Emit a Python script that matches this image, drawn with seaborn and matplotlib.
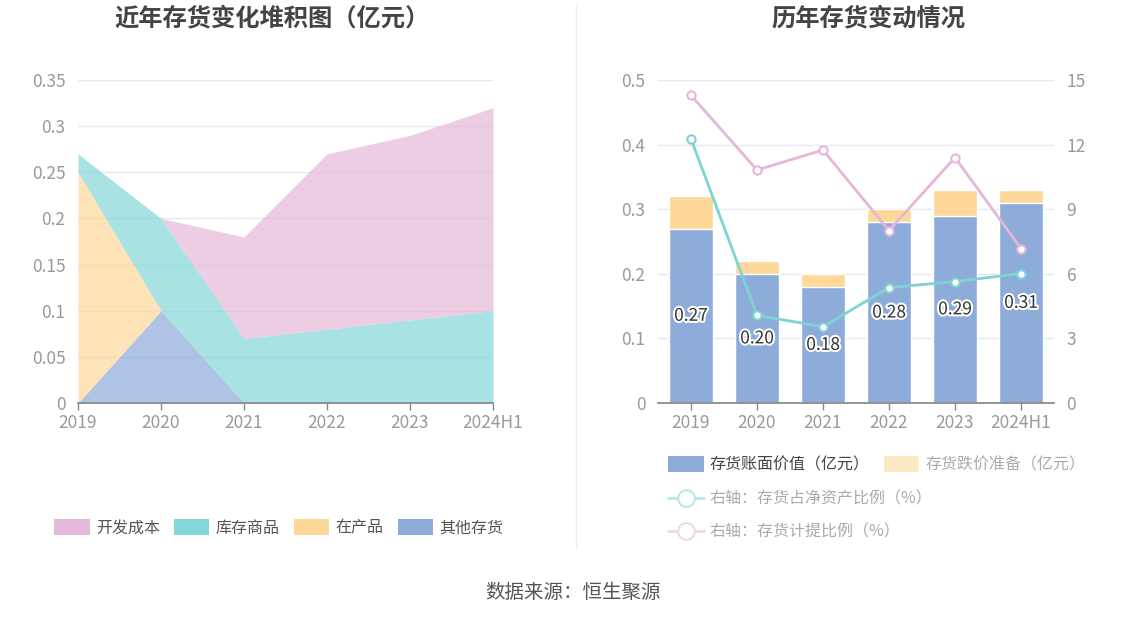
import numpy as np
import pandas as pd
import matplotlib
matplotlib.use('Agg')
import matplotlib.pyplot as plt
import matplotlib.patheffects as pe
from matplotlib.patches import Patch
from matplotlib.lines import Line2D
import seaborn as sns

# 数据
years = ['2019', '2020', '2021', '2022', '2023', '2024H1']
other_inv = [0.0, 0.10, 0.0, 0.0, 0.0, 0.0]          # 其他存货
wip = [0.25, 0.0, 0.0, 0.0, 0.0, 0.0]                # 在产品
goods = [0.02, 0.10, 0.07, 0.08, 0.09, 0.10]         # 库存商品
dev_cost = [0.0, 0.0, 0.11, 0.19, 0.20, 0.22]        # 开发成本

book_value = [0.27, 0.20, 0.18, 0.28, 0.29, 0.31]    # 存货账面价值
impairment = [0.05, 0.02, 0.02, 0.02, 0.04, 0.02]    # 存货跌价准备
ratio_net = [12.27, 4.07, 3.54, 5.36, 5.64, 6.01]    # 存货占净资产比例
ratio_prov = [14.29, 10.82, 11.75, 8.01, 11.40, 7.17]  # 存货计提比例

sns.set_theme(style='white')
plt.rcParams['font.family'] = ['Noto Sans CJK SC', 'DejaVu Sans']
plt.rcParams['axes.unicode_minus'] = False

c_pink, c_cyan, c_yellow, c_blue = '#e6b8d9', '#84d6d8', '#fdd899', '#8eacd9'
tick_c = '#999999'
grid_c = '#e4e8f4'
TICK_FS = 12.5
LEG_FS = 11.5

fig = plt.figure(figsize=(11.47, 6.19), dpi=100)

# ---------- 左图：堆积面积 ----------
ax1 = fig.add_axes([78/1147, 1-403/619, (493-78)/1147, (403-80)/619])
x = np.arange(len(years))
ax1.stackplot(x, other_inv, wip, goods, dev_cost,
              colors=[c_blue, c_yellow, c_cyan, c_pink], alpha=0.7, lw=0)
ax1.set_xlim(0, len(years)-1)
ax1.set_ylim(0, 0.35)
ax1.set_yticks([0, 0.05, 0.1, 0.15, 0.2, 0.25, 0.3, 0.35])
ax1.set_yticklabels(['0', '0.05', '0.1', '0.15', '0.2', '0.25', '0.3', '0.35'])
ax1.set_xticks(x)
ax1.set_xticklabels(years)
ax1.yaxis.grid(True, color=grid_c, lw=1)
ax1.set_axisbelow(True)
for s in ['top', 'right', 'left']:
    ax1.spines[s].set_visible(False)
ax1.spines['bottom'].set_color('#888888')
ax1.tick_params(axis='y', length=0, pad=9, colors=tick_c, labelsize=TICK_FS)
ax1.tick_params(axis='x', length=5, width=1, color='#888888', pad=3,
                colors=tick_c, labelsize=TICK_FS, direction='out', bottom=True)
fig.text(272/1147, 1-18/619, '近年存货变化堆积图（亿元）', fontsize=17.5,
         fontweight='bold', color='#444444', ha='center', va='center')

leg1 = fig.legend(handles=[Patch(facecolor=c, edgecolor='none', label=l)
                           for c, l in zip([c_pink, c_cyan, c_yellow, c_blue],
                                           ['开发成本', '库存商品', '在产品', '其他存货'])],
                  loc='center', bbox_to_anchor=(279/1147, 1-528/619), ncol=4,
                  frameon=False, fontsize=LEG_FS, handlelength=2.2, handleheight=1.15,
                  columnspacing=0.9, handletextpad=0.4)
for t in leg1.get_texts():
    t.set_color('#555555')

# 分隔线
fig.add_artist(Line2D([576/1147, 576/1147], [1-5/619, 1-548/619],
                      color='#eeeeee', lw=1))

# ---------- 右图：柱状+折线 ----------
ax2 = fig.add_axes([658/1147, 1-403/619, (1054-658)/1147, (403-80)/619])
df = pd.DataFrame({'year': years, 'book': book_value, 'imp': impairment})
df['total'] = df['book'] + df['imp']
sns.barplot(data=df, x='year', y='total', color=c_yellow, saturation=1,
            width=0.68, ax=ax2)
sns.barplot(data=df, x='year', y='book', color=c_blue, saturation=1,
            width=0.68, ax=ax2)
for i, v in enumerate(book_value):
    ax2.text(i, v/2, f'{v:.2f}', ha='center', va='center', fontsize=12.5,
             color='#333333',
             path_effects=[pe.withStroke(linewidth=3, foreground='white')],
             zorder=6)
ax2.set_xlim(-0.5, len(years)-0.5)
ax2.set_ylim(0, 0.5)
ax2.set_yticks([0, 0.1, 0.2, 0.3, 0.4, 0.5])
ax2.set_yticklabels(['0', '0.1', '0.2', '0.3', '0.4', '0.5'])
ax2.set_xlabel('')
ax2.set_ylabel('')
ax2.yaxis.grid(True, color=grid_c, lw=1)
ax2.set_axisbelow(True)
for s in ['top', 'right', 'left']:
    ax2.spines[s].set_visible(False)
ax2.spines['bottom'].set_color('#888888')
ax2.tick_params(axis='y', length=0, pad=9, colors=tick_c, labelsize=TICK_FS)
ax2.tick_params(axis='x', length=5, width=1, color='#888888', pad=3,
                colors=tick_c, labelsize=TICK_FS, direction='out', bottom=True)
fig.text(869/1147, 1-18/619, '历年存货变动情况', fontsize=17.5,
         fontweight='bold', color='#444444', ha='center', va='center')

ax3 = ax2.twinx()
pos = np.arange(len(years))
sns.lineplot(x=pos, y=ratio_net, ax=ax3, color='#7fd3d5', lw=2,
             marker='o', markersize=6, markerfacecolor='white',
             markeredgecolor='#7fd3d5', markeredgewidth=1.5)
sns.lineplot(x=pos, y=ratio_prov, ax=ax3, color='#e5b6da', lw=2,
             marker='o', markersize=6, markerfacecolor='white',
             markeredgecolor='#e5b6da', markeredgewidth=1.5)
ax3.set_ylim(0, 15)
ax3.set_yticks([0, 3, 6, 9, 12, 15])
for s in ['top', 'right', 'left', 'bottom']:
    ax3.spines[s].set_visible(False)
ax3.tick_params(axis='y', length=0, pad=9, colors=tick_c, labelsize=TICK_FS)
ax3.grid(False)

leg2 = fig.legend(handles=[Patch(facecolor=c_blue, edgecolor='none',
                                 label='存货账面价值（亿元）'),
                           Patch(facecolor='#fde9c6', edgecolor='none',
                                 label='存货跌价准备（亿元）')],
                  loc='center left', bbox_to_anchor=(654/1147, 1-465/619),
                  ncol=2, frameon=False, fontsize=LEG_FS, handlelength=2.2,
                  handleheight=1.15, columnspacing=0.9, handletextpad=0.4)
leg2.get_texts()[0].set_color('#444444')
leg2.get_texts()[1].set_color('#aaaaaa')

leg3 = fig.legend(handles=[Line2D([], [], color='#b8e8e9', lw=2, marker='o',
                                  markersize=12, markerfacecolor='white',
                                  markeredgewidth=1.5,
                                  label='右轴：存货占净资产比例（%）'),
                           Line2D([], [], color='#f1d6ea', lw=2, marker='o',
                                  markersize=12, markerfacecolor='white',
                                  markeredgewidth=1.5,
                                  label='右轴：存货计提比例（%）')],
                  loc='upper left', bbox_to_anchor=(654/1147, 1-476/619),
                  ncol=1, frameon=False, fontsize=LEG_FS, handlelength=2.2,
                  handletextpad=0.4, labelspacing=1.0)
for t in leg3.get_texts():
    t.set_color('#aaaaaa')

fig.text(573/1147, 1-593/619, '数据来源：恒生聚源', ha='center', va='center',
         fontsize=14, color='#555555')

fig.savefig('out.png', dpi=100)
